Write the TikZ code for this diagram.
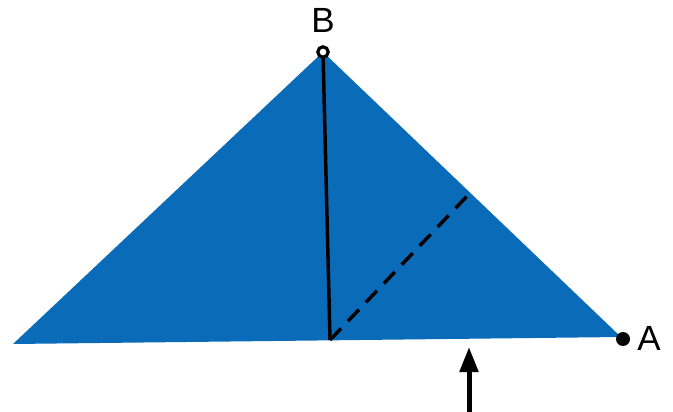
\documentclass[tikz,border=0pt]{standalone}
\usepackage{fontspec}
\setmainfont{Liberation Sans}
\usetikzlibrary{arrows.meta}
\definecolor{paper}{RGB}{10,108,184}
\tikzset{
  lbl/.style={font=\fontsize{35}{35}\selectfont, inner sep=0pt},
  fold/.style={line width=3.5pt, black},
}
\begin{document}
\begin{tikzpicture}[x=1pt,y=-1pt]
\useasboundingbox (0,0) rectangle (673,412);
\coordinate (L) at (13,344);
\coordinate (T) at (323,52);
\coordinate (R) at (621,337);
\coordinate (M) at (330,340);
\coordinate (E) at (470,193);
\coordinate (S) at (469,412);
\coordinate (H) at (469,347);
\fill[paper] (L) -- (T) -- (R) -- cycle;
\draw[fold] (T) -- (M);
\draw[fold, dash pattern=on 16pt off 10pt] (M) -- (E);
\draw[line width=5pt, -{Triangle[length=25pt,width=18pt]}] (S) -- (H);
\draw[line width=3.2pt, fill=white] (T) circle (5.2pt);
\fill (623,339) circle (7pt);
\node[lbl] (B) at (323,20) {B};
\node[lbl] (A) at (649,338) {A};
\end{tikzpicture}
\end{document}
